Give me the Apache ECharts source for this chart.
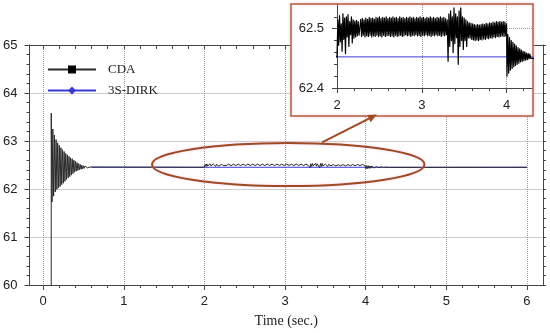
<!DOCTYPE html>
<html>
<head>
<meta charset="utf-8">
<script src="https://cdn.jsdelivr.net/npm/echarts@6/dist/echarts.min.js"></script>
<style>
html,body{margin:0;padding:0;background:#fff;}
#main{width:550px;height:333px;}
</style>
</head>
<body>
<div id="main"></div>
<script>
// legend names
var seriesNames = ['CDA', '3S-DIRK'];

// tick labels / tick positions
var xMainLabels = [0, 1, 2, 3, 4, 5, 6];
var xMainTicks = [0, 0.2, 0.4, 0.6, 0.8, 1, 1.2, 1.4, 1.6, 1.8, 2, 2.2, 2.4, 2.6, 2.8, 3, 3.2, 3.4, 3.6, 3.8, 4, 4.2, 4.4, 4.6, 4.8, 5, 5.2, 5.4, 5.6, 5.8, 6];
var yMainLabels = [60, 61, 62, 63, 64, 65];
var yMainTicks = [60, 60.2, 60.4, 60.6, 60.8, 61, 61.2, 61.4, 61.6, 61.8, 62, 62.2, 62.4, 62.6, 62.8, 63, 63.2, 63.4, 63.6, 63.8, 64, 64.2, 64.4, 64.6, 64.8, 65];
var xInsetLabels = [2, 3, 4];
var xInsetTicks = [2, 2.2, 2.4, 2.6, 2.8, 3, 3.2, 3.4, 3.6, 3.8, 4, 4.2];
var yInsetLabels = [62.4, 62.5];
var yInsetTicks = [62.4, 62.42, 62.44, 62.46, 62.48, 62.5, 62.52];

// CDA: start-up transient
var cdaStart = [
  [0.1, 0], [0.1, 63.58], [0.11, 61.73], [0.12, 63.25], [0.13, 61.85], [0.14, 63.12], [0.15, 61.94],
  [0.16, 63.03], [0.17, 61.99], [0.18, 62.96], [0.19, 62.02], [0.20, 62.91], [0.21, 62.05],
  [0.22, 62.86], [0.23, 62.09], [0.24, 62.82], [0.25, 62.12], [0.26, 62.78], [0.27, 62.16],
  [0.28, 62.74], [0.29, 62.20], [0.30, 62.71], [0.31, 62.23], [0.32, 62.68], [0.33, 62.26],
  [0.34, 62.65], [0.35, 62.29], [0.36, 62.63], [0.37, 62.32], [0.38, 62.60], [0.39, 62.35],
  [0.40, 62.58], [0.41, 62.37], [0.42, 62.55], [0.43, 62.385], [0.44, 62.53], [0.45, 62.40],
  [0.46, 62.51], [0.47, 62.41], [0.48, 62.495], [0.49, 62.42], [0.50, 62.485], [0.51, 62.43],
  [0.52, 62.475], [0.53, 62.435], [0.54, 62.468], [0.55, 62.44], [0.56, 62.462], [0.57, 62.445],
  [0.58, 62.458], [0.60, 62.4525]
];
// CDA: noisy part 2 s - 4 s
var cdaBand = [
  [2.00, 62.4525], [2.01, 62.515], [2.02, 62.472], [2.03, 62.522], [2.04, 62.478], [2.05, 62.508],
  [2.06, 62.462], [2.07, 62.525], [2.08, 62.482], [2.09, 62.518], [2.10, 62.458], [2.11, 62.52],
  [2.12, 62.486], [2.13, 62.524], [2.14, 62.47], [2.15, 62.512], [2.16, 62.49], [2.17, 62.52],
  [2.18, 62.476], [2.19, 62.515], [2.20, 62.484], [2.21, 62.513], [2.22, 62.486], [2.23, 62.514],
  [2.24, 62.488], [2.25, 62.512], [2.26, 62.489],
  [2.27, 62.488], [2.28, 62.516], [2.29, 62.487], [2.30, 62.517], [2.31, 62.489], [2.32, 62.515],
  [2.33, 62.486], [2.34, 62.518], [2.35, 62.488], [2.36, 62.516], [2.37, 62.487], [2.38, 62.519],
  [2.39, 62.489], [2.40, 62.517], [2.41, 62.486], [2.42, 62.518], [2.43, 62.488], [2.44, 62.516],
  [2.45, 62.487], [2.46, 62.519], [2.47, 62.489], [2.48, 62.518], [2.49, 62.487], [2.50, 62.52],
  [2.51, 62.488], [2.52, 62.517], [2.53, 62.486], [2.54, 62.519], [2.55, 62.489], [2.56, 62.518],
  [2.57, 62.487], [2.58, 62.52], [2.59, 62.488], [2.60, 62.517], [2.61, 62.489], [2.62, 62.519],
  [2.63, 62.487], [2.64, 62.518], [2.65, 62.488], [2.66, 62.52], [2.67, 62.486], [2.68, 62.518],
  [2.69, 62.489], [2.70, 62.519], [2.71, 62.487], [2.72, 62.517], [2.73, 62.488], [2.74, 62.52],
  [2.75, 62.489], [2.76, 62.518], [2.77, 62.487], [2.78, 62.519], [2.79, 62.488], [2.80, 62.517],
  [2.81, 62.49], [2.82, 62.519], [2.83, 62.488], [2.84, 62.518], [2.85, 62.489], [2.86, 62.52],
  [2.87, 62.487], [2.88, 62.518], [2.89, 62.489], [2.90, 62.519], [2.91, 62.488], [2.92, 62.517],
  [2.93, 62.49], [2.94, 62.519], [2.95, 62.488], [2.96, 62.518], [2.97, 62.489], [2.98, 62.52],
  [2.99, 62.487], [3.00, 62.518], [3.01, 62.489], [3.02, 62.519], [3.03, 62.488], [3.04, 62.517],
  [3.05, 62.49], [3.06, 62.519], [3.07, 62.488], [3.08, 62.518], [3.09, 62.489], [3.10, 62.52],
  [3.11, 62.487], [3.12, 62.518], [3.13, 62.489], [3.14, 62.519], [3.15, 62.488], [3.16, 62.517],
  [3.17, 62.49], [3.18, 62.519], [3.19, 62.488], [3.20, 62.518], [3.21, 62.489], [3.22, 62.52],
  [3.23, 62.487], [3.24, 62.518], [3.25, 62.489], [3.26, 62.519], [3.27, 62.488], [3.28, 62.517],
  [3.29, 62.49], [3.30, 62.515],
  [3.31, 62.445], [3.32, 62.525], [3.33, 62.47], [3.34, 62.53], [3.35, 62.48], [3.36, 62.52],
  [3.37, 62.46], [3.38, 62.535], [3.39, 62.475], [3.40, 62.525], [3.41, 62.485], [3.42, 62.52],
  [3.43, 62.44], [3.44, 62.53], [3.45, 62.47], [3.46, 62.535], [3.47, 62.48], [3.48, 62.52],
  [3.49, 62.465], [3.50, 62.518], [3.51, 62.48], [3.52, 62.515], [3.53, 62.47], [3.54, 62.512],
  [3.55, 62.485], [3.56, 62.51],
  [3.57, 62.484], [3.58, 62.509], [3.59, 62.482], [3.60, 62.508], [3.61, 62.481], [3.62, 62.507],
  [3.63, 62.48], [3.64, 62.506], [3.65, 62.481], [3.66, 62.507], [3.67, 62.48], [3.68, 62.506],
  [3.69, 62.482], [3.70, 62.507], [3.71, 62.481], [3.72, 62.508], [3.73, 62.483], [3.74, 62.507],
  [3.75, 62.482], [3.76, 62.509], [3.77, 62.484], [3.78, 62.508], [3.79, 62.483], [3.80, 62.51],
  [3.81, 62.485], [3.82, 62.509], [3.83, 62.484], [3.84, 62.511], [3.85, 62.486], [3.86, 62.51],
  [3.87, 62.485], [3.88, 62.512], [3.89, 62.487], [3.90, 62.511], [3.91, 62.486], [3.92, 62.512],
  [3.93, 62.487], [3.94, 62.511], [3.95, 62.488], [3.96, 62.512], [3.97, 62.487], [3.98, 62.511],
  [3.99, 62.488], [4.00, 62.508]
];
// CDA: ring-down after 4 s
var cdaEnd = [
  [4.005, 62.42], [4.015, 62.49], [4.025, 62.425], [4.035, 62.485], [4.045, 62.43], [4.055, 62.48],
  [4.065, 62.433], [4.075, 62.477], [4.085, 62.436], [4.095, 62.474], [4.105, 62.438], [4.115, 62.471],
  [4.125, 62.44], [4.135, 62.468], [4.145, 62.442], [4.155, 62.466], [4.165, 62.444], [4.175, 62.464],
  [4.185, 62.445], [4.195, 62.462], [4.205, 62.446], [4.215, 62.461], [4.225, 62.447], [4.235, 62.459],
  [4.245, 62.448], [4.255, 62.458], [4.265, 62.449], [4.275, 62.457], [4.285, 62.450], [4.30, 62.4525],
  [6.0, 62.4525]
];
// 3S-DIRK
var dirkLine = [[0.6, 62.4525], [6.0, 62.4525]];

var cdaLine = cdaStart.concat(cdaBand, cdaEnd);

var axisColor = '#444';
var labelFont = {color: '#222', fontFamily: 'Liberation Sans', fontSize: 13};
var gridDots = {type: 'dotted', color: '#9a9a9a', width: 1};
var boxColor = '#b3613b';
var annoColor = '#9e4a22';

// axis that only carries the small ticks
function fineAxis(grid, pos, min, max, ticks, len, inside, z) {
    return {
        type: 'value', gridIndex: grid, position: pos, min: min, max: max, z: z || 0,
        axisLine: {show: false, onZero: false},
        axisTick: {show: true, inside: !!inside, customValues: ticks, length: len, lineStyle: {color: axisColor}},
        axisLabel: {show: false},
        splitLine: {show: false}
    };
}

var myChart = echarts.init(document.getElementById('main'));

var option = {
    animation: false,
    grid: [
        {left: 29, right: 7, top: 45, bottom: 46},
        {left: 337, width: 195, top: 5, height: 83}
    ],
    legend: {
        data: seriesNames,
        orient: 'vertical',
        left: 42,
        top: 58,
        itemWidth: 48,
        itemHeight: 10,
        itemGap: 8,
        textStyle: {fontFamily: 'Liberation Serif', fontSize: 13, color: '#222', padding: [0, 0, 0, 7]}
    },
    xAxis: [
        {
            type: 'value', gridIndex: 0, position: 'bottom', min: -0.17, max: 6.2,
            name: 'Time (sec.)', nameLocation: 'middle', nameGap: 29,
            nameTextStyle: {fontFamily: 'Liberation Serif', fontSize: 14, color: '#222'},
            axisLine: {show: true, onZero: false, lineStyle: {color: axisColor}},
            axisTick: {show: true, customValues: xMainLabels, length: 5, lineStyle: {color: axisColor}},
            axisLabel: Object.assign({customValues: xMainLabels, margin: 10}, labelFont),
            splitLine: {show: true, lineStyle: gridDots}
        },
        {
            type: 'value', gridIndex: 0, position: 'top', min: -0.17, max: 6.2,
            axisLine: {show: true, onZero: false, lineStyle: {color: axisColor}},
            axisTick: {show: true, inside: true, customValues: xMainTicks, length: 4, lineStyle: {color: axisColor}},
            axisLabel: {show: false},
            splitLine: {show: false}
        },
        {
            type: 'value', gridIndex: 1, position: 'bottom', min: 2, max: 4.3, z: 20,
            axisLine: {show: true, onZero: false, lineStyle: {color: axisColor}},
            axisTick: {show: true, customValues: xInsetLabels, length: 5, lineStyle: {color: axisColor}},
            axisLabel: Object.assign({customValues: xInsetLabels, margin: 11}, labelFont),
            splitLine: {show: true, lineStyle: gridDots}
        },
        fineAxis(0, 'bottom', -0.17, 6.2, xMainTicks, 3),
        fineAxis(1, 'bottom', 2, 4.3, xInsetTicks, 3, false, 20)
    ],
    yAxis: [
        {
            type: 'value', gridIndex: 0, position: 'left', min: 60, max: 65,
            axisLine: {show: true, onZero: false, lineStyle: {color: axisColor}},
            axisTick: {show: true, customValues: yMainLabels, length: 5, lineStyle: {color: axisColor}},
            axisLabel: Object.assign({customValues: yMainLabels, margin: 12}, labelFont),
            splitLine: {show: true, lineStyle: gridDots}
        },
        {
            type: 'value', gridIndex: 0, position: 'right', min: 60, max: 65,
            axisLine: {show: true, onZero: false, lineStyle: {color: axisColor}},
            axisTick: {show: true, customValues: yMainTicks, length: 3, lineStyle: {color: axisColor}},
            axisLabel: {show: false},
            splitLine: {show: false}
        },
        {
            type: 'value', gridIndex: 1, position: 'left', min: 62.4, max: 62.54, z: 20,
            axisLine: {show: true, onZero: false, lineStyle: {color: axisColor}},
            axisTick: {show: true, customValues: yInsetLabels, length: 5, lineStyle: {color: axisColor}},
            axisLabel: Object.assign({customValues: yInsetLabels, margin: 13}, labelFont),
            splitLine: {show: true, lineStyle: gridDots}
        },
        fineAxis(0, 'left', 60, 65, yMainTicks, 3),
        fineAxis(1, 'left', 62.4, 62.54, yInsetTicks, 3, false, 20)
    ],
    series: [
        {
            name: '3S-DIRK', type: 'line', xAxisIndex: 0, yAxisIndex: 0, data: dirkLine,
            showSymbol: false, symbol: 'diamond', color: '#3a3ad2', lineStyle: {width: 1}, silent: true, z: 2
        },
        {
            name: 'CDA', type: 'line', xAxisIndex: 0, yAxisIndex: 0, data: cdaLine,
            showSymbol: false, symbol: 'rect', color: '#000', lineStyle: {width: 1, join: 'round', color: '#2a2a2a'}, silent: true, z: 3
        },
        {
            name: '3S-DIRK', type: 'line', xAxisIndex: 2, yAxisIndex: 2, data: dirkLine,
            showSymbol: false, symbol: 'diamond', color: '#3a3ad2', lineStyle: {width: 1}, silent: true, z: 21
        },
        {
            name: 'CDA', type: 'line', xAxisIndex: 2, yAxisIndex: 2, data: cdaLine,
            showSymbol: false, symbol: 'rect', color: '#000', lineStyle: {width: 1.2, join: 'round'}, silent: true, z: 22
        }
    ]
};
myChart.setOption(option);

// annotations: ellipse round the 2-4 s region, arrow to the zoom box, zoom box frame
var ellipseT = [1.35, 4.73];
var ellipseV = [62.06, 62.96];
var arrowFrom = [3.46, 62.97];
var arrowTo = [4.14, 63.55];

var e0 = myChart.convertToPixel({gridIndex: 0}, [ellipseT[0], ellipseV[1]]);
var e1 = myChart.convertToPixel({gridIndex: 0}, [ellipseT[1], ellipseV[0]]);
var a0 = myChart.convertToPixel({gridIndex: 0}, arrowFrom);
var a1 = myChart.convertToPixel({gridIndex: 0}, arrowTo);
var ang = Math.atan2(a1[1] - a0[1], a1[0] - a0[0]);
var headLen = 9, headW = 4;
var hb = [a1[0] - headLen * Math.cos(ang), a1[1] - headLen * Math.sin(ang)];
var head = [
    a1,
    [hb[0] + headW * Math.sin(ang), hb[1] - headW * Math.cos(ang)],
    [hb[0] - headW * Math.sin(ang), hb[1] + headW * Math.cos(ang)]
];
var glow = {shadowBlur: 3, shadowColor: 'rgba(255,170,225,0.55)'};

myChart.setOption({
    graphic: [
        {
            type: 'rect', z: 10, silent: true,
            shape: {x: 291, y: 4, width: 242, height: 112},
            style: Object.assign({fill: '#fff', stroke: boxColor, lineWidth: 1.5}, glow)
        },
        {
            type: 'ellipse', z: 10, silent: true,
            shape: {cx: (e0[0] + e1[0]) / 2, cy: (e0[1] + e1[1]) / 2, rx: (e1[0] - e0[0]) / 2, ry: (e1[1] - e0[1]) / 2},
            style: Object.assign({fill: null, stroke: annoColor, lineWidth: 2}, glow)
        },
        {
            type: 'line', z: 10, silent: true,
            shape: {x1: a0[0], y1: a0[1], x2: hb[0], y2: hb[1]},
            style: {stroke: annoColor, lineWidth: 2}
        },
        {
            type: 'polygon', z: 10, silent: true,
            shape: {points: head},
            style: {fill: annoColor}
        }
    ]
});
</script>
</body>
</html>
